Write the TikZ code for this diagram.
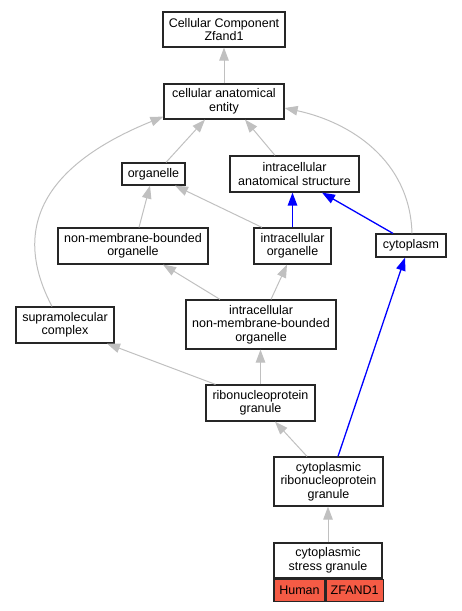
\documentclass[tikz,border=0pt]{standalone}
\usepackage{fontspec}
\setmainfont{Liberation Sans}
\usetikzlibrary{arrows.meta}
\definecolor{edgegray}{HTML}{C0C0C0}
\definecolor{annotred}{HTML}{F55B45}

\begin{document}
\begin{tikzpicture}[
        x=1pt, y=-1pt,
        every node/.style={font=\fontsize{12.5}{13.5}\selectfont},
        term/.style={draw=black!85, line width=1.2pt, rectangle, inner sep=0pt, minimum height=36pt, align=center, fill=white},
        cell/.style={term, fill=annotred, minimum height=22pt},
        isa/.style={-{Triangle[length=13pt, width=9.5pt]}, draw=edgegray, line width=1pt},
        partof/.style={-{Triangle[length=13pt, width=9.5pt]}, draw=blue, line width=1.3pt}
    ]

    \useasboundingbox (0,0) rectangle (461,611);

    % terms
    \node[term, minimum width=122pt, minimum height=35pt] (cc) at (224,29.5) {Cellular Component\\Zfand1};
    \node[term, minimum width=120pt, minimum height=35pt] (cae) at (224,101.5) {cellular anatomical\\entity};
    \node[term, minimum width=63pt, minimum height=22pt] (org) at (153.5,174) {organelle};
    \node[term, minimum width=129pt] (ias) at (294.5,174) {intracellular\\anatomical structure};
    \node[term, minimum width=150pt] (nmbo) at (133,246) {non-membrane-bounded\\organelle};
    \node[term, minimum width=77pt] (io) at (292.5,246) {intracellular\\organelle};
    \node[term, minimum width=70pt, minimum height=23pt] (cyto) at (411,245.5) {cytoplasm};
    \node[term, minimum width=98pt] (smc) at (65,325) {supramolecular\\complex};
    \node[term, minimum width=150pt, minimum height=49pt] (inmbo) at (261,324.5) {intracellular\\non-membrane-bounded\\organelle};
    \node[term, minimum width=109pt] (rnp) at (260.5,403) {ribonucleoprotein\\granule};
    \node[term, minimum width=109pt, minimum height=49pt] (crnp) at (328.5,481.5) {cytoplasmic\\ribonucleoprotein\\granule};
    \node[term, minimum width=108pt, minimum height=35pt] (csg) at (328,560.5) {cytoplasmic\\stress granule};
    \node[cell, minimum width=51pt, anchor=north west] (human) at (csg.south west) {Human};
    \node[cell, minimum width=57pt, anchor=north west] (zfand) at (human.north east) {ZFAND1};

    % is_a edges
    \draw[isa] (cae.north) -- (cc.south);
    \draw[isa] ([xshift=12.5pt]org.north) -- ([xshift=-19pt]cae.south);
    \draw[isa] ([xshift=-19.5pt]ias.north) -- ([xshift=21pt]cae.south);
    \draw[isa] ([xshift=-13pt]smc.north) .. controls (25,255) and (12,178) .. ([yshift=3pt]cae.south west);
    \draw[isa] ([xshift=1pt]cyto.north) .. controls (410,160) and (350,122) .. ([yshift=-6.5pt]cae.east);
    \draw[isa] ([xshift=6pt]nmbo.north) -- ([xshift=-3.5pt]org.south);
    \draw[isa] ([xshift=-30.5pt]io.north) -- ([xshift=21.5pt]org.south);
    \draw[isa] ([xshift=-41pt]inmbo.north) -- ([xshift=30pt]nmbo.south);
    \draw[isa] ([xshift=10pt]inmbo.north) -- ([xshift=-5.5pt]io.south);
    \draw[isa] (rnp.north) -- (rnp.north |- inmbo.south);
    \draw[isa] ([xshift=-45pt]rnp.north) -- ([xshift=42pt]smc.south);
    \draw[isa] ([xshift=-21.5pt]crnp.north) -- ([xshift=14.5pt]rnp.south);
    \draw[isa] (csg.north) -- (csg.north |- crnp.south);

    % part_of edges
    \draw[partof] (io.north) -- (io.north |- ias.south);
    \draw[partof] ([xshift=-18pt]cyto.north) -- ([xshift=27.5pt]ias.south);
    \draw[partof] ([xshift=9.5pt]crnp.north) -- ([xshift=-6pt]cyto.south);

\end{tikzpicture}
\end{document}
